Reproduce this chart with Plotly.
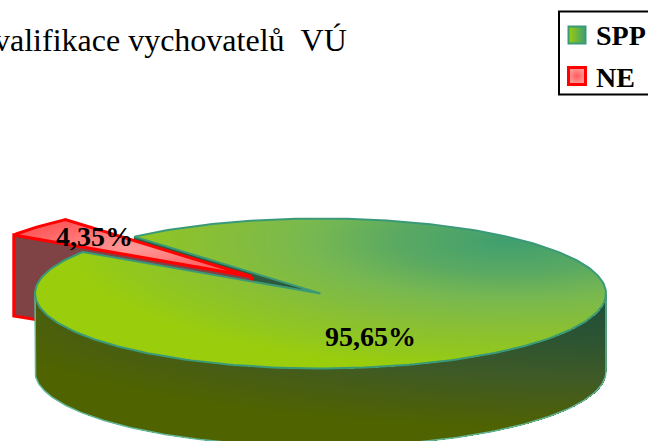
import numpy as np
import plotly.graph_objects as go

# Data
categories = ["SPP", "NE"]
values = [95.65, 4.35]
value_labels = ["95,65%", "4,35%"]
title_text = "valifikace vychovatelů\u00a0\u00a0VÚ"

# Pie geometry (pixel-space projection of a tilted pie)
W, H = 648, 441
CX, CY, RX, RY = 320.5, 293.5, 285.5, 75.0
DEPTH = 78
START = 40.7          # degrees anticlockwise from the top where the NE slice begins
EXPLODE = (-69, -17)  # displacement of the NE slice


def rim(theta, dx=0, dy=0):
    t = np.radians(theta)
    return CX + dx - RX * np.sin(t), CY + dy - RY * np.cos(t)


ne_sweep = 360 * values[1] / sum(values)
t0, t1 = START, START + ne_sweep

# Slice outlines
gt = np.linspace(t1, t0 + 360, 300)
gx, gy = rim(gt)
top_x = np.r_[CX, gx, CX]
top_y = np.r_[CY, gy, CY]

rt = np.linspace(t0, t1, 30)
rx_, ry_ = rim(rt, *EXPLODE)
ax, ay = CX + EXPLODE[0], CY + EXPLODE[1]
red_x = np.r_[ax, rx_, ax]
red_y = np.r_[ay, ry_, ay]
red_wall_x = [ax, rx_[-1], rx_[-1], ax, ax]
red_wall_y = [ay, ry_[-1], ry_[-1] + DEPTH + 3, ay + DEPTH, ay]

ux, uy = rim(t0)
notch_x = [CX, ux, ux, CX, CX]
notch_y = [CY, uy, uy + DEPTH, CY + DEPTH, CY]

# Shading rasters
xs = np.arange(W + 1)
ys = np.arange(H + 1)
X, Y = np.meshgrid(xs, ys)
nx = (X - CX) / RX
ny = (Y - CY) / RY
inside = nx**2 + ny**2 <= 1
ang = np.degrees(np.arctan2(-nx, -ny)) % 360
notch = (ang > t0) & (ang < t1)
top_mask = inside & ~notch
top_z = np.minimum(np.hypot((X - 510) / 450, (Y - 240) / 130), 1.0).round(3)
top_z = np.where(top_mask, top_z, np.nan)

wall_mask = (np.abs(nx) <= 1) & (Y >= CY) & (((Y - CY - DEPTH) / RY) ** 2 + nx**2 <= 1 ) | ((np.abs(nx) <= 1) & (Y >= CY) & (Y <= CY + DEPTH))
wall_z = np.minimum(np.hypot((X - 600) / 650, (Y - 300) / 130), 1.0).round(3)
wall_z = np.where(wall_mask, wall_z, np.nan)

top_scale = [[0, "#3f9f6f"], [0.25, "#5aa962"], [0.45, "#78b850"], [0.7, "#8bc032"], [0.88, "#92c81c"], [1, "#9ace0c"]]
wall_scale = [[0, "#1f4f3a"], [0.3, "#2c5432"], [0.6, "#3f5a26"], [0.85, "#4a5f0e"], [1, "#4f6300"]]

fig = go.Figure()

# lower layer: what sits behind the big slice
fig.add_trace(go.Scatter(x=notch_x, y=notch_y, mode="lines", fill="toself",
                         fillcolor="#2d5a3c", line=dict(color="#2d5a3c", width=1)))
fig.add_trace(go.Scatter(x=red_wall_x, y=red_wall_y, mode="lines", fill="toself",
                         fillcolor="#7f4245", line=dict(color="#ff0000", width=3)))
fig.add_trace(go.Scatter(x=red_x, y=red_y, mode="lines", fill="toself",
                         fillgradient=dict(type="radial",
                                           colorscale=[[0, "#ff9a9a"], [1, "#ff5c5c"]]),
                         line=dict(color="#ff0000", width=3)))

# upper layer: the big slice
fig.add_trace(go.Heatmap(x=xs, y=ys, z=wall_z, colorscale=wall_scale, zmin=0, zmax=1,
                         showscale=False, hoverinfo="skip", xaxis="x2", yaxis="y2"))
fig.add_trace(go.Heatmap(x=xs, y=ys, z=top_z, colorscale=top_scale, zmin=0, zmax=1,
                         showscale=False, hoverinfo="skip", xaxis="x2", yaxis="y2"))

ft = np.linspace(90, 270, 200)
fx, fy = rim(ft)
bx, by = rim(ft, 0, DEPTH)
fig.add_trace(go.Scatter(x=np.r_[fx[0], bx, fx[-1]], y=np.r_[fy[0], by, fy[-1]], mode="lines",
                         line=dict(color="#62b898", width=1.5), xaxis="x2", yaxis="y2"))
fig.add_trace(go.Scatter(x=top_x, y=top_y, mode="lines",
                         line=dict(color="#3a9a78", width=2), xaxis="x2", yaxis="y2"))

# key swatches
fig.add_trace(go.Scatter(x=[577], y=[35], mode="markers", xaxis="x2", yaxis="y2",
                         marker=dict(symbol="square", size=17, color="#9ace0c",
                                     gradient=dict(type="horizontal", color="#3f9f70"),
                                     line=dict(color="#3a9a78", width=2))))
fig.add_trace(go.Scatter(x=[577], y=[76], mode="markers", xaxis="x2", yaxis="y2",
                         marker=dict(symbol="square", size=17, color="#ff9a9a",
                                     gradient=dict(type="radial", color="#ff5c5c"),
                                     line=dict(color="#ff0000", width=3))))

SERIF = "Liberation Serif"
def note(text, x, y, size, bold=True, anchor="center"):
    fig.add_annotation(x=x, y=y, xref="x", yref="y", text=f"<b>{text}</b>" if bold else text,
                       showarrow=False, xanchor=anchor, yanchor="middle",
                       font=dict(family=SERIF, size=size, color="#000000"))

note(value_labels[0], 370, 336, 28)
note(value_labels[1], 94.5, 236, 28)
note(categories[0], 594, 35, 28, anchor="left")
note(categories[1], 594, 77, 28, anchor="left")
note(title_text, 349, 40, 32, bold=False, anchor="right")

axis = dict(range=[0, W], visible=False, fixedrange=True)
yaxis = dict(range=[H, 0], visible=False, fixedrange=True)
fig.update_layout(
    width=W, height=H, margin=dict(l=0, r=0, t=0, b=0),
    paper_bgcolor="white", plot_bgcolor="white", showlegend=False,
    xaxis=axis, yaxis=yaxis,
    xaxis2=dict(axis, overlaying="x"), yaxis2=dict(yaxis, overlaying="y"),
    shapes=[dict(type="rect", xref="x", yref="y", x0=559, x1=670, y0=11.5, y1=94.5,
                 line=dict(color="#000000", width=2), fillcolor="rgba(0,0,0,0)")],
)

fig.write_html("out.html", config=dict(displayModeBar=False),
               post_script="document.body.style.margin='0';document.body.style.overflow='hidden';")
